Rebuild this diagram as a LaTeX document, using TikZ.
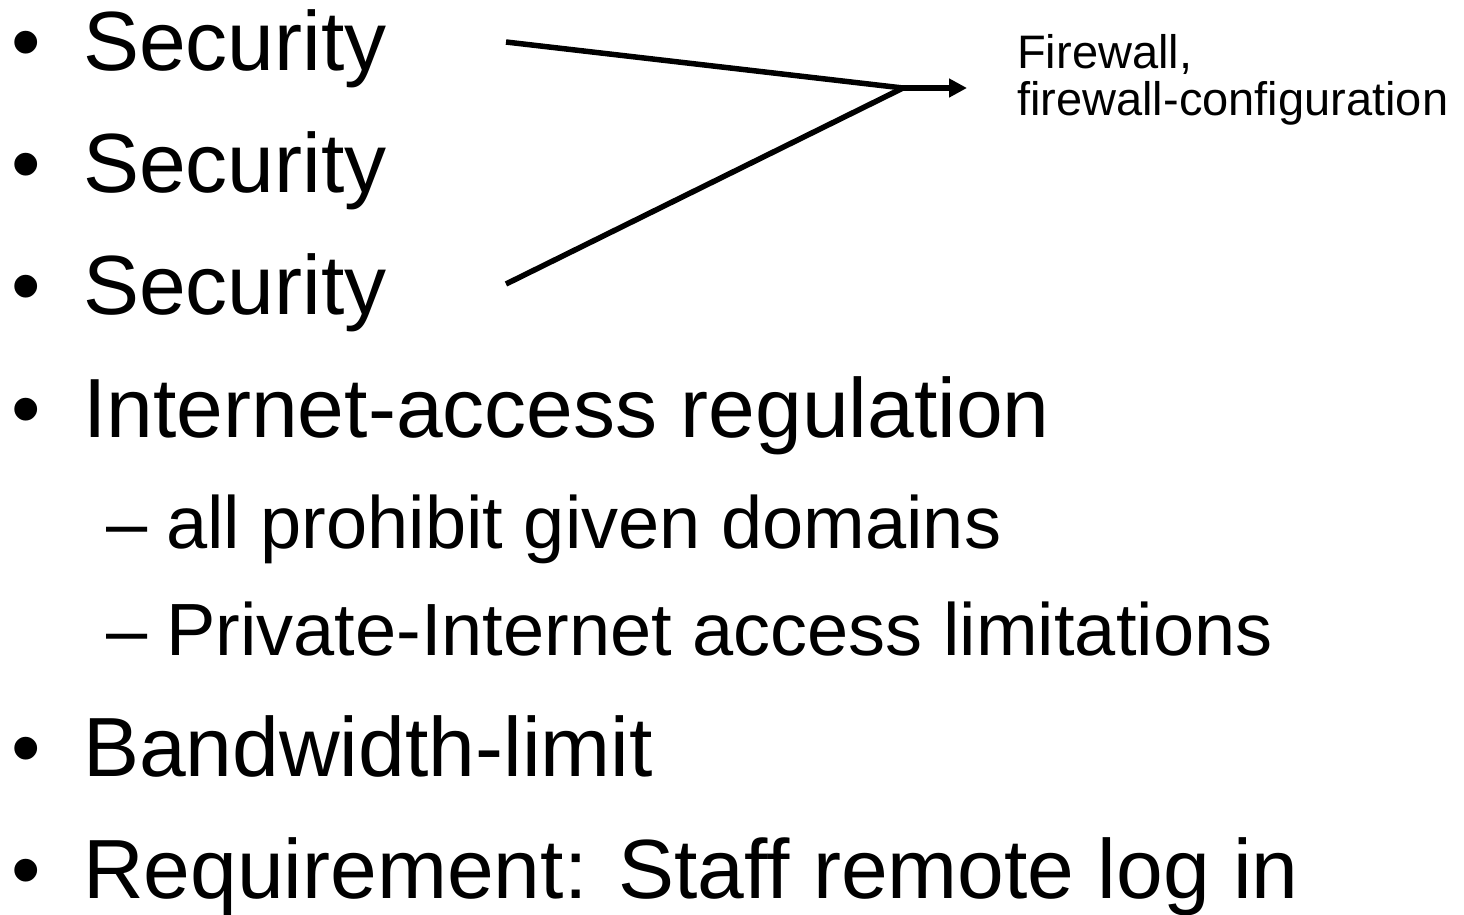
\documentclass[tikz,border=0pt]{standalone}
\usepackage{fontspec}
\setmainfont{Liberation Sans}
\usetikzlibrary{arrows.meta}
\begin{document}
\begin{tikzpicture}[x=1pt,y=-1pt,
  item/.style={anchor=base west,inner sep=0pt,font=\fontsize{84}{84}\selectfont},
  subitem/.style={anchor=base west,inner sep=0pt,font=\fontsize{74}{74}\selectfont},
  note/.style={anchor=base west,inner sep=0pt,align=left,font=\fontsize{47}{47}\selectfont},
  conn/.style={line width=5.5pt,line cap=butt},
  arr/.style={line width=5.5pt,-{Triangle[length=18pt,width=18pt]}}]
\useasboundingbox (0,0) rectangle (1464,914);
\newcommand{\bul}{\makebox[72pt][l]{•}}
\newcommand{\dsh}{\makebox[60pt][l]{–}}
\node[item] (sec1) at (11,70) {\bul Security};
\node[item] (sec2) at (11,192) {\bul Security};
\node[item] (sec3) at (11,314) {\bul Security};
\node[item] (inet) at (11,437) {\bul Internet-access regulation};
\node[subitem] (dom) at (106,548) {\dsh all prohibit given domains};
\node[subitem] (priv) at (106,655) {\dsh Private-Internet access limitations};
\node[item] (bw) at (11,776) {\bul Bandwidth-limit};
\node[item] (req) at (11,898) {\bul Requirement: Staff remote log in};
\node[note] (fw) at (1017,115) {Firewall,\\firewall-configuration};
\coordinate (a1) at (506,42);
\coordinate (a3) at (506,284);
\coordinate (j) at (903,88);
\coordinate (tip) at (967,88);
\draw[conn] (a1) -- (j);
\draw[conn] (a3) -- (j);
\draw[arr] (j) -- (tip);
\end{tikzpicture}
\end{document}
